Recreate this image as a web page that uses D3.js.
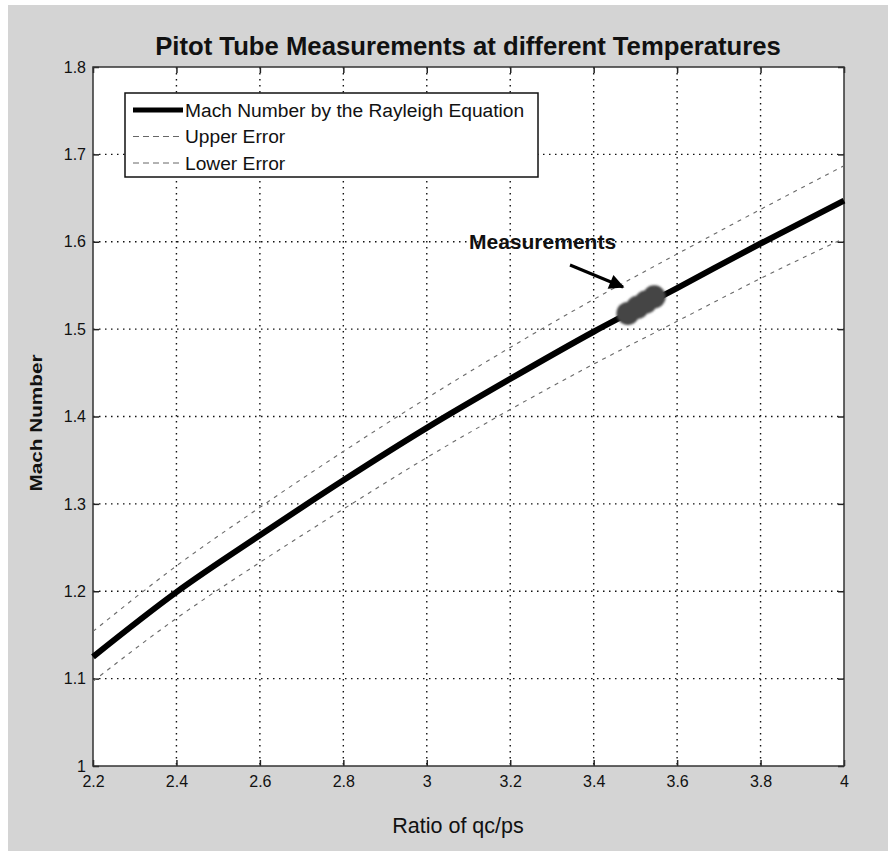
<!DOCTYPE html>
<html>
<head>
<meta charset="utf-8">
<script src="https://cdn.jsdelivr.net/npm/d3@7/dist/d3.min.js"></script>
<style>
  html, body { margin: 0; padding: 0; background: #ffffff; }
  text { font-family: "Liberation Sans", Arial, sans-serif; fill: #111; }
</style>
</head>
<body>
<div id="chart"></div>
<script>
// data
const ratio = [2.2, 2.4, 2.6, 2.8, 3.0, 3.2, 3.4, 3.6, 3.8, 4.0];
const machRayleigh = [1.125, 1.199, 1.264, 1.327, 1.387, 1.443, 1.497, 1.547, 1.598, 1.647];
const upperError = [1.154, 1.229, 1.296, 1.360, 1.421, 1.479, 1.534, 1.586, 1.637, 1.687];
const lowerError = [1.097, 1.169, 1.233, 1.294, 1.353, 1.408, 1.460, 1.509, 1.558, 1.604];
const measRatio = [3.482, 3.505, 3.525, 3.545];
const measMach = [1.518, 1.525, 1.531, 1.537];
const xTicks = [2.2, 2.4, 2.6, 2.8, 3, 3.2, 3.4, 3.6, 3.8, 4];
const yTicks = [1, 1.1, 1.2, 1.3, 1.4, 1.5, 1.6, 1.7, 1.8];
const legendLabels = ['Mach Number by the Rayleigh Equation', 'Upper Error', 'Lower Error'];

const W = 896, H = 854;
const margin = { top: 67, right: 52, bottom: 88, left: 93 };
const width = W - margin.left - margin.right;
const height = H - margin.top - margin.bottom;

const svg = d3.select('#chart')
  .append('svg')
  .attr('width', W)
  .attr('height', H);

// figure background
svg.append('rect')
  .attr('x', 8).attr('y', 5)
  .attr('width', 880).attr('height', 846)
  .attr('fill', '#d4d4d4');

const defs = svg.append('defs');
defs.append('filter').attr('id', 'blur')
  .attr('x', '-50%').attr('y', '-50%').attr('width', '200%').attr('height', '200%')
  .append('feGaussianBlur').attr('stdDeviation', 1.3);
defs.append('marker').attr('id', 'arrowhead')
  .attr('viewBox', '0 0 10 10').attr('refX', 9).attr('refY', 5)
  .attr('markerWidth', 6.5).attr('markerHeight', 5)
  .attr('markerUnits', 'strokeWidth')
  .attr('orient', 'auto')
  .append('path').attr('d', 'M0,0L10,5L0,10Z').attr('fill', '#000');

const g = svg.append('g')
  .attr('transform', 'translate(' + margin.left + ',' + margin.top + ')');

const x = d3.scaleLinear().domain([2.2, 4]).range([0, width]);
const y = d3.scaleLinear().domain([1, 1.8]).range([height, 0]);

g.append('rect').attr('width', width).attr('height', height).attr('fill', '#fff');

// dotted grid
g.append('g').selectAll('line').data(xTicks.slice(1, -1)).enter().append('line')
  .attr('x1', d => x(d)).attr('x2', d => x(d))
  .attr('y1', 0).attr('y2', height)
  .attr('stroke', '#111').attr('stroke-width', 1.4).attr('stroke-dasharray', '1.5,4.5');
g.append('g').selectAll('line').data(yTicks.slice(1, -1)).enter().append('line')
  .attr('x1', 0).attr('x2', width)
  .attr('y1', d => y(d)).attr('y2', d => y(d))
  .attr('stroke', '#111').attr('stroke-width', 1.4).attr('stroke-dasharray', '1.5,4.5');

// axes (ticks inward, box on all sides)
const fmt = d => d3.format('')(d);
const styleAxis = sel => {
  sel.select('.domain').remove();
  sel.selectAll('line').attr('stroke', '#222').attr('stroke-width', 1.5);
  sel.selectAll('text').style('font-size', '16px')
    .style('font-family', '"Liberation Sans", Arial, sans-serif').attr('fill', '#111');
};
g.append('g').attr('transform', 'translate(0,' + height + ')')
  .call(d3.axisBottom(x).tickValues(xTicks).tickFormat(fmt).tickSizeInner(-6).tickSizeOuter(0).tickPadding(10))
  .call(styleAxis);
g.append('g')
  .call(d3.axisLeft(y).tickValues(yTicks).tickFormat(fmt).tickSizeInner(-6).tickSizeOuter(0).tickPadding(7))
  .call(styleAxis);
g.append('g')
  .call(d3.axisTop(x).tickValues(xTicks).tickFormat('').tickSizeInner(-6).tickSizeOuter(0))
  .call(styleAxis);
g.append('g').attr('transform', 'translate(' + width + ',0)')
  .call(d3.axisRight(y).tickValues(yTicks).tickFormat('').tickSizeInner(-6).tickSizeOuter(0))
  .call(styleAxis);
g.append('rect').attr('width', width).attr('height', height)
  .attr('fill', 'none').attr('stroke', '#333').attr('stroke-width', 1.5);

// curves
const line = (vals) => d3.line()
  .x((d, i) => x(ratio[i]))
  .y(d => y(d))
  .curve(d3.curveMonotoneX)(vals);

g.append('path').attr('d', line(upperError))
  .attr('fill', 'none').attr('stroke', '#6a6a6a').attr('stroke-width', 1.1).attr('stroke-dasharray', '4,5');
g.append('path').attr('d', line(lowerError))
  .attr('fill', 'none').attr('stroke', '#6a6a6a').attr('stroke-width', 1.1).attr('stroke-dasharray', '4,5');
g.append('path').attr('d', line(machRayleigh))
  .attr('fill', 'none').attr('stroke', '#000').attr('stroke-width', 6);

// measurements
g.append('g').attr('filter', 'url(#blur)')
  .selectAll('circle').data(measRatio).enter().append('circle')
  .attr('cx', d => x(d))
  .attr('cy', (d, i) => y(measMach[i]))
  .attr('r', 11.5)
  .attr('fill', '#454545');

// annotation
g.append('text')
  .attr('x', 376).attr('y', 182)
  .style('font-size', '21px').style('font-weight', 'bold')
  .text('Measurements');
g.append('line')
  .attr('x1', 477).attr('y1', 198)
  .attr('x2', 530).attr('y2', 220)
  .attr('stroke', '#000').attr('stroke-width', 3)
  .attr('marker-end', 'url(#arrowhead)');

// legend
const legend = g.append('g').attr('transform', 'translate(32,26)');
legend.append('rect').attr('width', 413).attr('height', 84)
  .attr('fill', '#fff').attr('stroke', '#111').attr('stroke-width', 1.5);
legendLabels.forEach((lab, i) => {
  const ly = 17 + i * 26.5;
  legend.append('line')
    .attr('x1', 8).attr('x2', 58).attr('y1', ly).attr('y2', ly)
    .attr('stroke', i === 0 ? '#000' : '#666')
    .attr('stroke-width', i === 0 ? 5 : 1)
    .attr('stroke-dasharray', i === 0 ? null : '6,4');
  legend.append('text')
    .attr('x', 60).attr('y', ly).attr('dy', '0.35em')
    .style('font-size', '19.2px')
    .text(lab);
});

// titles
svg.append('text')
  .attr('x', 468).attr('y', 55)
  .attr('text-anchor', 'middle')
  .style('font-size', '25.7px').style('font-weight', 'bold')
  .text('Pitot Tube Measurements at different Temperatures');
svg.append('text')
  .attr('x', 458).attr('y', 833)
  .attr('text-anchor', 'middle')
  .style('font-size', '21.5px')
  .text('Ratio of qc/ps');
svg.append('text')
  .attr('transform', 'translate(42,423) rotate(-90)')
  .attr('text-anchor', 'middle')
  .attr('textLength', 137).attr('lengthAdjust', 'spacingAndGlyphs')
  .style('font-size', '16.5px').style('font-weight', 'bold')
  .text('Mach Number');
</script>
</body>
</html>
